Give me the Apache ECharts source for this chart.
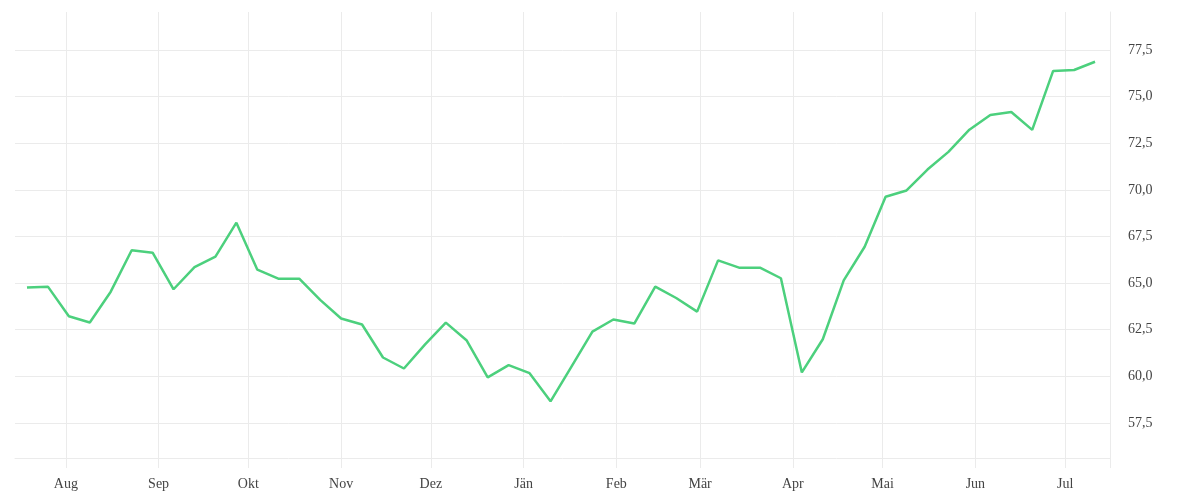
<!DOCTYPE html>
<html><head><meta charset="utf-8">
<script src="https://cdn.jsdelivr.net/npm/echarts@6/dist/echarts.min.js"></script>
<style>html,body{margin:0;padding:0;background:#fff}#c{width:1200px;height:500px}</style>
</head><body><div id="c"></div>
<script>
const dates = [
  '2024-07-19','2024-07-26','2024-08-02','2024-08-09','2024-08-16','2024-08-23','2024-08-30',
  '2024-09-06','2024-09-13','2024-09-20','2024-09-27','2024-10-04','2024-10-11','2024-10-18',
  '2024-10-25','2024-11-01','2024-11-08','2024-11-15','2024-11-22','2024-11-29','2024-12-06',
  '2024-12-13','2024-12-20','2024-12-27','2025-01-03','2025-01-10','2025-01-17','2025-01-24',
  '2025-01-31','2025-02-07','2025-02-14','2025-02-21','2025-02-28','2025-03-07','2025-03-14',
  '2025-03-21','2025-03-28','2025-04-04','2025-04-11','2025-04-18','2025-04-25','2025-05-02',
  '2025-05-09','2025-05-16','2025-05-23','2025-05-30','2025-06-06','2025-06-13','2025-06-20',
  '2025-06-27','2025-07-04','2025-07-11'
];
const values = [
  64.76, 64.81, 63.22, 62.89, 64.54, 66.76, 66.63,
  64.67, 65.86, 66.42, 68.24, 65.72, 65.24, 65.24,
  64.10, 63.10, 62.78, 61.01, 60.42, 61.70, 62.88,
  61.92, 59.94, 60.60, 60.17, 58.66, 60.52, 62.40,
  63.05, 62.83, 64.81, 64.20, 63.47, 66.22, 65.83,
  65.83, 65.26, 60.21, 61.99, 65.15, 66.95, 69.63,
  69.97, 71.09, 72.04, 73.23, 74.02, 74.18, 73.22,
  76.38, 76.43, 76.87
];
const monthTicks = ['2024-08-01','2024-09-01','2024-10-01','2024-11-01','2024-12-01','2025-01-01',
  '2025-02-01','2025-03-01','2025-04-01','2025-05-01','2025-06-01','2025-07-01'];
const monthLabels = ['Aug','Sep','Okt','Nov','Dez','Jän','Feb','Mär','Apr','Mai','Jun','Jul'];
const yTicks = [57.5, 60, 62.5, 65, 67.5, 70, 72.5, 75, 77.5];
const xStart = '2024-07-15';
const xEnd = '2025-07-16';
const yMin = 55.62;
const yMax = 79.54;

const toTs = s => { const p = s.split('-').map(Number); return Date.UTC(p[0], p[1] - 1, p[2]); };
const tickTs = monthTicks.map(toTs);
const labelMap = {};
tickTs.forEach((t, i) => { labelMap[t] = monthLabels[i]; });

const gridColor = '#ebebeb';
const textStyle = { color: '#444', fontFamily: 'Liberation Serif', fontSize: 14 };

const chart = echarts.init(document.getElementById('c'), null, { renderer: 'canvas' });
chart.setOption({
  animation: false,
  backgroundColor: '#fff',
  grid: { left: 15, right: 90, top: 12, bottom: 42 },
  xAxis: {
    type: 'value',
    min: toTs(xStart),
    max: toTs(xEnd),
    axisLine: { show: true, lineStyle: { color: gridColor, width: 1 } },
    axisTick: { show: true, length: 10, customValues: tickTs.concat([toTs(xEnd)]), lineStyle: { color: gridColor } },
    axisLabel: Object.assign({ customValues: tickTs, margin: 19, formatter: v => labelMap[v] || '' }, textStyle),
    splitLine: { show: true, lineStyle: { color: gridColor, width: 1 } }
  },
  yAxis: {
    type: 'value',
    position: 'right',
    min: yMin,
    max: yMax,
    axisLine: { show: true, lineStyle: { color: gridColor, width: 1 } },
    axisTick: { show: false, customValues: yTicks },
    axisLabel: Object.assign({ customValues: yTicks, margin: 18, formatter: v => v.toFixed(1).replace('.', ',') }, textStyle),
    splitLine: { show: true, lineStyle: { color: gridColor, width: 1 } }
  },
  series: [{
    type: 'line',
    data: dates.map((d, i) => [toTs(d), values[i]]),
    showSymbol: false,
    symbol: 'none',
    lineStyle: { width: 2.5, color: '#4cd07d' },
    itemStyle: { color: '#4cd07d' }
  }]
});
</script>
</body></html>
